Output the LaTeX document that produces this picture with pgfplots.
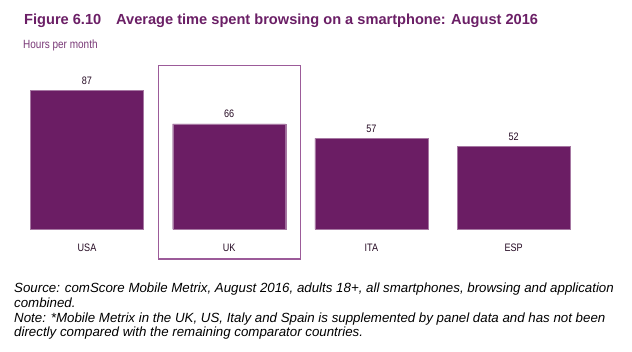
\documentclass[border=0pt]{standalone}
\usepackage{fontspec}
\setmainfont{Liberation Sans}
\newfontfamily\narrowfont[FakeStretch=0.84]{Liberation Sans}
\usepackage{pgfplots}
\pgfplotsset{compat=1.18}
\definecolor{barcol}{HTML}{6B1D64}
\definecolor{titlecol}{HTML}{6B1F66}
\definecolor{unitcol}{HTML}{7A3A78}
\definecolor{boxcol}{HTML}{9C5B99}
\begin{document}
\begin{tikzpicture}
\useasboundingbox (0pt,0pt) rectangle (632pt,351pt);
\fill[white] (0pt,0pt) rectangle (632pt,351pt);
% title
\node[anchor=base west, inner sep=0pt, text=titlecol, font=\fontsize{14.6}{16}\selectfont\bfseries] at (24pt,326pt) {Figure 6.10};
\node[anchor=base west, inner sep=0pt, text=titlecol, font=\fontsize{14.6}{16}\selectfont\bfseries] at (116pt,326pt) {Average time spent browsing on a smartphone: August 2016};
\node[anchor=base west, inner sep=0pt, text=unitcol, font=\narrowfont\fontsize{11.9}{13}\selectfont] at (23pt,302.7pt) {Hours per month};
\begin{axis}[
  at={(15.9pt,121.7pt)}, anchor=south west,
  scale only axis, width=568.8pt, height=167.7pt,
  xmin=-0.5, xmax=3.5, ymin=0, ymax=105,
  clip=false,
  axis line style={draw=none},
  tick style={draw=none},
  ytick=\empty,
  xtick={0,1,2,3},
  xticklabels={USA,UK,ITA,ESP},
  /pgf/number format/assume math mode=true,
  xticklabel style={anchor=north, inner sep=0pt, yshift=-10.2pt, text=black!65!barcol, font=\narrowfont\fontsize{10.8}{12}\selectfont},
  ybar, bar width=113pt,
  nodes near coords,
  every node near coord/.append style={anchor=south, inner sep=0pt, yshift=5.8pt, text=black!65!barcol, font=\narrowfont\fontsize{10.8}{12}\selectfont},
]
\addplot[fill=barcol, draw=barcol!60!white, line width=0.4pt] coordinates {(0,87) (1,66) (2,57) (3,52)};
\draw[boxcol, line width=1.1pt] (axis cs:0.5,-18.6) rectangle (axis cs:1.5,102.3);
\end{axis}
% notes
\begin{scope}[every node/.style={anchor=base west, inner sep=0pt, font=\fontsize{13.3}{14}\selectfont\itshape}]
\node at (14pt,58.3pt) {Source: comScore Mobile Metrix, August 2016, adults 18+, all smartphones, browsing and application};
\node at (14pt,43.7pt) {combined.};
\node at (14pt,28.7pt) {Note: *Mobile Metrix in the UK, US, Italy and Spain is supplemented by panel data and has not been};
\node at (14pt,14.3pt) {directly compared with the remaining comparator countries.};
\end{scope}
\end{tikzpicture}
\end{document}
